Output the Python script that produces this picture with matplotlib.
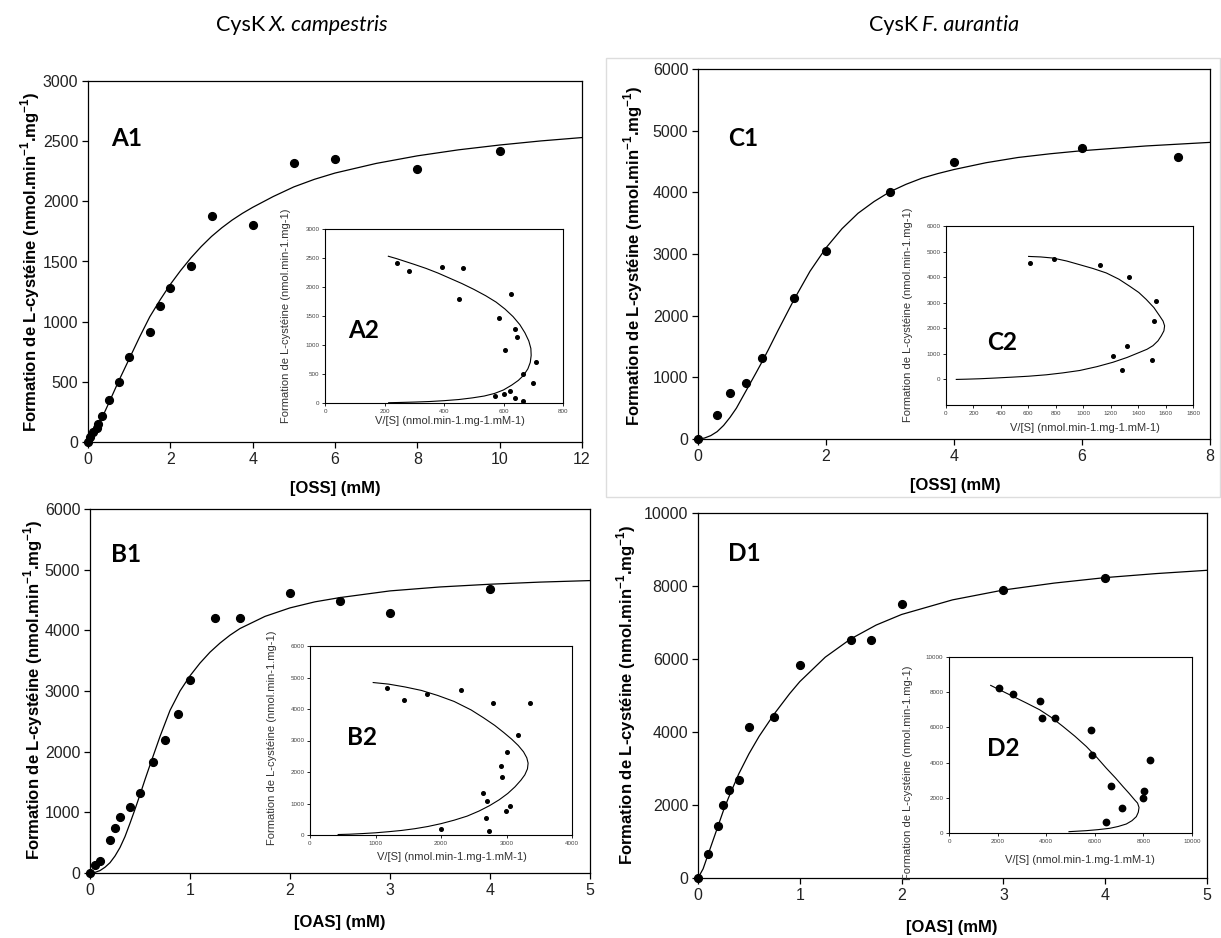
import matplotlib
matplotlib.use("Agg")
import matplotlib.pyplot as plt
from matplotlib.patches import Rectangle

plt.rcParams['font.family'] = ['Liberation Sans', 'DejaVu Sans']
plt.rcParams['mathtext.fontset'] = 'custom'
plt.rcParams['mathtext.rm'] = 'Liberation Sans'
plt.rcParams['mathtext.bf'] = 'Liberation Sans:bold'

# --- données ---
# A : CysK X. campestris, OSS
A_S = [0, 0.06, 0.125, 0.21, 0.25, 0.345, 0.5, 0.75, 1.0, 1.5, 1.75, 2.0, 2.5, 3, 4, 5, 6, 8, 10]
A_V = [0, 40, 80, 120, 150, 215, 350, 500, 710, 910, 1130, 1280, 1460, 1880, 1800, 2320, 2350, 2270, 2420]
A_fit_S = [0, 0.05, 0.1, 0.14, 0.2, 0.28, 0.4, 0.52, 0.75, 1, 1.25, 1.5, 1.75, 2, 2.25, 2.5,
           2.75, 3, 3.25, 3.5, 3.75, 4, 4.5, 5, 5.5, 6, 7, 8, 9, 10, 11, 12]
A_fit_V = [0, 10, 38, 63, 105, 162, 245, 335, 510, 690, 870, 1040, 1180, 1310, 1425, 1530,
           1624, 1708, 1780, 1844, 1900, 1950, 2040, 2120, 2183, 2235, 2315, 2378, 2428, 2468,
           2502, 2530]
A_ins_x = [213, 240, 270, 300, 340, 380, 420, 460, 500, 540, 575, 605, 632, 655, 672, 685, 692,
           693, 690, 682, 668, 650, 628, 600, 570, 535, 495, 450, 400, 350, 300, 250, 214]
A_ins_y = [2530, 2490, 2440, 2390, 2320, 2240, 2150, 2060, 1960, 1850, 1740, 1620, 1490, 1350,
           1210, 1070, 940, 820, 700, 590, 480, 390, 310, 225, 165, 120, 88, 60, 40, 25, 16, 9, 5]

# B : CysK X. campestris, OAS
B_S = [0, 0.05, 0.1, 0.2, 0.25, 0.3, 0.4, 0.5, 0.625, 0.75, 0.875, 1.0, 1.25, 1.5, 2, 2.5, 3, 4]
B_V = [0, 137, 200, 538, 747, 918, 1082, 1319, 1830, 2192, 2626, 3176, 4198, 4198, 4615, 4478, 4286, 4681]
B_fit_S = [0, 0.05, 0.1, 0.15, 0.2, 0.25, 0.3, 0.35, 0.4, 0.45, 0.5, 0.55, 0.6, 0.7, 0.8, 0.9,
           1.0, 1.1, 1.2, 1.3, 1.4, 1.5, 1.75, 2, 2.25, 2.5, 3, 3.5, 4, 4.5, 5]
B_fit_V = [0, 10, 40, 95, 170, 280, 420, 600, 820, 1050, 1290, 1540, 1780, 2250, 2680, 3000,
           3250, 3460, 3640, 3790, 3920, 4030, 4230, 4370, 4470, 4540, 4650, 4715, 4760, 4795, 4820]
B_ins_x = [965, 1200, 1450, 1700, 1950, 2200, 2460, 2650, 2820, 2960, 3080, 3180, 3260, 3310,
           3330, 3320, 3280, 3220, 3130, 3020, 2890, 2740, 2580, 2400, 2200, 2000, 1800, 1600,
           1400, 1200, 1000, 800, 600, 430]
B_ins_y = [4840, 4790, 4700, 4590, 4430, 4240, 3970, 3720, 3480, 3250, 3040, 2840, 2640, 2450,
           2280, 2100, 1910, 1740, 1530, 1320, 1120, 930, 760, 600, 470, 360, 270, 200, 145,
           105, 70, 45, 25, 15]

# C : CysK F. aurantia, OSS
C_S = [0, 0.3, 0.5, 0.75, 1.0, 1.5, 2.0, 3.0, 4.0, 6.0, 7.5]
C_V = [0, 384, 752, 915, 1316, 2279, 3054, 4007, 4489, 4711, 4565]
C_fit_S = [0, 0.1, 0.2, 0.3, 0.4, 0.5, 0.6, 0.75, 0.9, 1.0, 1.1, 1.25, 1.4, 1.5, 1.75, 2, 2.25,
           2.5, 2.75, 3, 3.25, 3.5, 3.75, 4, 4.5, 5, 5.5, 6, 7, 8]
C_fit_V = [0, 15, 55, 120, 220, 350, 500, 780, 1060, 1250, 1450, 1760, 2060, 2260, 2720, 3100,
           3410, 3660, 3850, 4010, 4130, 4230, 4305, 4370, 4480, 4565, 4625, 4675, 4752, 4810]
C_ins_x = [602, 690, 780, 880, 974, 1070, 1168, 1260, 1338, 1405, 1459, 1515, 1557, 1582, 1593,
           1588, 1569, 1545, 1508, 1465, 1411, 1320, 1217, 1100, 974, 850, 731, 600, 488, 360,
           245, 150, 75]
C_ins_y = [4810, 4790, 4746, 4630, 4487, 4340, 4164, 3920, 3647, 3400, 3130, 2810, 2483, 2280,
           2095, 1900, 1707, 1510, 1319, 1180, 1060, 860, 672, 500, 349, 255, 181, 125, 91, 55,
           26, 10, 0]

# D : CysK F. aurantia, OAS
D_S = [0, 0.1, 0.2, 0.25, 0.3, 0.4, 0.5, 0.75, 1.0, 1.5, 1.7, 2.0, 3.0, 4.0]
D_V = [0, 648, 1423, 1998, 2409, 2673, 4142, 4416, 5830, 6515, 6515, 7518, 7901, 8230]
D_fit_S = [0, 0.05, 0.1, 0.15, 0.2, 0.25, 0.3, 0.4, 0.5, 0.6, 0.75, 0.9, 1.0, 1.25, 1.5, 1.75,
           2, 2.5, 3, 3.5, 4, 4.5, 5]
D_fit_V = [0, 250, 650, 1050, 1450, 1850, 2200, 2850, 3400, 3880, 4500, 5050, 5380, 6050, 6550,
           6930, 7220, 7620, 7890, 8080, 8230, 8340, 8430]
D_ins_x = [1715, 2150, 2634, 3180, 3731, 4220, 4691, 5180, 5652, 6080, 6475, 6850, 7160, 7420,
           7641, 7760, 7820, 7790, 7709, 7530, 7298, 6960, 6612, 6130, 5652, 4938]
D_ins_y = [8387, 8090, 7761, 7390, 7002, 6560, 6053, 5500, 4915, 4300, 3681, 3130, 2638, 2240,
           1879, 1700, 1450, 1180, 930, 700, 512, 370, 266, 190, 133, 76]

W, H = 1221, 938
fig = plt.figure(figsize=(W / 100, H / 100), dpi=100)


def rect(l, t, r, b):
    return [l / W, 1 - b / H, (r - l) / W, (b - t) / H]


def ftext(x, y, s, **kw):
    fig.text(x / W, 1 - y / H, s, **kw)


ylab = r"Formation de L-cystéine (nmol.min$^{\mathbf{-1}}$.mg$^{\mathbf{-1}}$)"
ins_ylab = "Formation de L-cystéine (nmol.min-1.mg-1)"
ins_xlab = "V/[S] (nmol.min-1.mg-1.mM-1)"
tagfam = ['Lato', 'DejaVu Sans']


def panel(p):
    ax = fig.add_axes(rect(*p['box']))
    ax.plot(p['fit_S'], p['fit_V'], color='black', lw=0.9, zorder=2)
    ax.plot(p['S'], p['V'], 'o', color='black', ms=5.6, zorder=3, clip_on=False)
    ax.set_xlim(p['xlim'])
    ax.set_ylim(p['ylim'])
    ax.set_xticks(p['xticks'])
    ax.set_yticks(p['yticks'])
    ax.tick_params(direction='out', length=4, width=0.9, labelsize=11.5,
                   labelcolor='#222222', pad=3)
    for sp in ax.spines.values():
        sp.set_linewidth(0.9)
    ftext(*p['xlab_pos'], p['xlab'], ha='center', va='center',
          fontsize=12, fontweight='bold')
    ftext(*p['ylab_pos'], ylab, ha='center', va='center', rotation=90,
          fontsize=12, fontweight='bold')
    ftext(*p['tag_pos'], p['tag'], ha='center', va='center', fontsize=17.5,
          fontweight='bold', family=tagfam)

    # encart V en fonction de V/[S]
    ins = fig.add_axes(rect(*p['ins_box']))
    pts_x = [v / s for s, v in zip(p['S'], p['V']) if s > 0]
    pts_y = [v for s, v in zip(p['S'], p['V']) if s > 0]
    ins.plot(p['ins_x'], p['ins_y'], color='black', lw=0.8, zorder=2)
    ins.plot(pts_x, pts_y, 'o', color='black', ms=p['ins_ms'], zorder=3)
    ins.set_xlim(p['ins_xlim'])
    ins.set_ylim(p['ins_ylim'])
    ins.set_xticks(p['ins_xticks'])
    ins.set_yticks(p['ins_yticks'])
    ins.tick_params(direction='out', length=2, width=0.6, labelsize=4.5,
                    labelcolor='#444444', pad=2)
    for sp in ins.spines.values():
        sp.set_linewidth(0.8)
    ftext(*p['ins_xlab_pos'], ins_xlab, ha='center', va='center',
          fontsize=8, color='#333333')
    ftext(*p['ins_ylab_pos'], ins_ylab, ha='center', va='center',
          rotation=90, fontsize=8, color='#333333')
    ftext(*p['ins_tag_pos'], p['ins_tag'], ha='center', va='center',
          fontsize=17.5, fontweight='bold', family=tagfam)


panels = [
    dict(box=(88, 81, 582, 442), S=A_S, V=A_V, fit_S=A_fit_S, fit_V=A_fit_V,
         xlim=(0, 12), ylim=(0, 3000), xticks=range(0, 13, 2),
         yticks=range(0, 3001, 500), xlab='[OSS] (mM)', xlab_pos=(335, 488),
         ylab_pos=(30, 262), tag='A1', tag_pos=(127, 138),
         ins_box=(325, 229, 563, 403), ins_x=A_ins_x, ins_y=A_ins_y,
         ins_xlim=(0, 800), ins_ylim=(0, 3000), ins_xticks=range(0, 801, 200),
         ins_yticks=range(0, 3001, 500), ins_ms=2.6,
         ins_xlab_pos=(450, 421), ins_ylab_pos=(286, 316),
         ins_tag='A2', ins_tag_pos=(364, 330)),
    dict(box=(90, 509, 590, 873), S=B_S, V=B_V, fit_S=B_fit_S, fit_V=B_fit_V,
         xlim=(0, 5), ylim=(0, 6000), xticks=range(0, 6),
         yticks=range(0, 6001, 1000), xlab='[OAS] (mM)', xlab_pos=(340, 922),
         ylab_pos=(33, 690), tag='B1', tag_pos=(126, 554),
         ins_box=(310, 646, 572, 835), ins_x=B_ins_x, ins_y=B_ins_y,
         ins_xlim=(0, 4000), ins_ylim=(0, 6000), ins_xticks=range(0, 4001, 1000),
         ins_yticks=range(0, 6001, 1000), ins_ms=2.6,
         ins_xlab_pos=(452, 857), ins_ylab_pos=(272, 738),
         ins_tag='B2', ins_tag_pos=(362, 737)),
    dict(box=(698, 69, 1210, 439), S=C_S, V=C_V, fit_S=C_fit_S, fit_V=C_fit_V,
         xlim=(0, 8), ylim=(0, 6000), xticks=range(0, 9, 2),
         yticks=range(0, 6001, 1000), xlab='[OSS] (mM)', xlab_pos=(955, 485),
         ylab_pos=(633, 256), tag='C1', tag_pos=(743, 139),
         ins_box=(946, 226, 1193, 405), ins_x=C_ins_x, ins_y=C_ins_y,
         ins_xlim=(0, 1800), ins_ylim=(-1000, 6000), ins_xticks=range(0, 1801, 200),
         ins_yticks=range(0, 6001, 1000), ins_ms=2.6,
         ins_xlab_pos=(1085, 428), ins_ylab_pos=(908, 315),
         ins_tag='C2', ins_tag_pos=(1002, 342)),
    dict(box=(698, 513, 1207, 878), S=D_S, V=D_V, fit_S=D_fit_S, fit_V=D_fit_V,
         xlim=(0, 5), ylim=(0, 10000), xticks=range(0, 6),
         yticks=range(0, 10001, 2000), xlab='[OAS] (mM)', xlab_pos=(952, 927),
         ylab_pos=(626, 695), tag='D1', tag_pos=(744, 553),
         ins_box=(949, 657, 1192, 833), ins_x=D_ins_x, ins_y=D_ins_y,
         ins_xlim=(0, 10000), ins_ylim=(0, 10000), ins_xticks=range(0, 10001, 2000),
         ins_yticks=range(0, 10001, 2000), ins_ms=4.6,
         ins_xlab_pos=(1080, 860), ins_ylab_pos=(908, 773),
         ins_tag='D2', ins_tag_pos=(1003, 748)),
]

for p in panels:
    panel(p)

# cadre gris clair autour du panneau C
fig.patches.append(Rectangle((606 / W, 1 - 497 / H), (W - 607) / W, (497 - 58) / H,
                             transform=fig.transFigure, fill=False,
                             edgecolor='#dddddd', lw=1))

# titres
ftext(265, 25, 'CysK', ha='right', va='center', fontsize=15.5, family=tagfam)
ftext(269, 25, 'X. campestris', ha='left', va='center', fontsize=15.5,
      style='italic', family=tagfam)
ftext(918, 25, 'CysK', ha='right', va='center', fontsize=15.5, family=tagfam)
ftext(922, 25, 'F. aurantia', ha='left', va='center', fontsize=15.5,
      style='italic', family=tagfam)

fig.savefig('out.png', dpi=100)
